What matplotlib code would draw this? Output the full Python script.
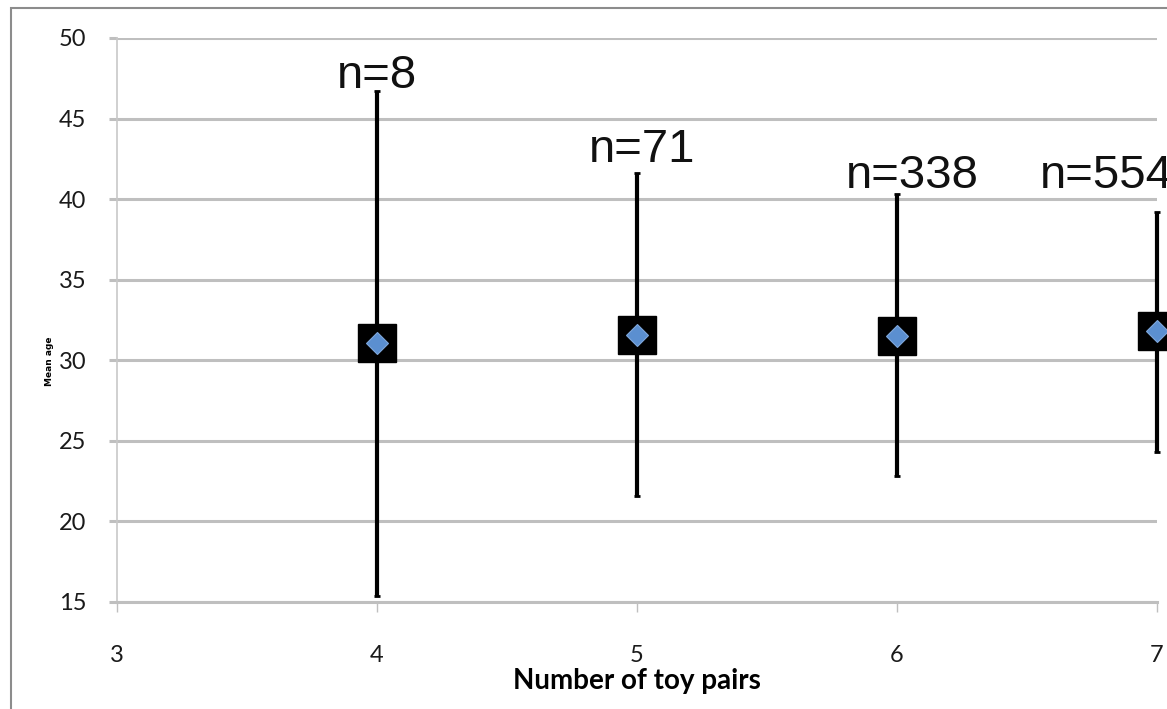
import matplotlib.pyplot as plt
from matplotlib.patches import Rectangle

# data
toy_pairs = [4, 5, 6, 7]
mean_age = [31.1, 31.6, 31.5, 31.8]
err_low = [15.4, 21.6, 22.8, 24.3]
err_high = [46.7, 41.6, 40.3, 39.2]
n_labels = ['n=8', 'n=71', 'n=338', 'n=554']
label_x = [4.0, 5.02, 6.06, 6.55]
label_y = [46.9, 42.3, 40.7, 40.7]
label_ha = ['center', 'center', 'center', 'left']
y_ticks = [15, 20, 25, 30, 35, 40, 45, 50]
x_ticks = [3, 4, 5, 6, 7]

fig = plt.figure(figsize=(11.67, 7.09), dpi=100)
ax = fig.add_axes([117/1167, 107/709, 1040/1167, 564/709])

# outer frame of the chart area (cut off on the right and bottom)
fig.patches.append(Rectangle((11/1167, -0.05), 1.2, (709 - 8)/709 + 0.05,
                             transform=fig.transFigure, fill=False,
                             edgecolor='#8c8c8c', linewidth=1.5))

yerr = [[m - lo for m, lo in zip(mean_age, err_low)],
        [hi - m for m, hi in zip(mean_age, err_high)]]
ax.errorbar(toy_pairs, mean_age, yerr=yerr, fmt='s', color='black',
            markersize=28, elinewidth=3, capsize=2.5, capthick=2, zorder=3,
            clip_on=False)
ax.plot(toy_pairs, mean_age, 'D', color='#5b8fd0', markersize=11,
        markeredgecolor='#7fa8dc', markeredgewidth=0.8, zorder=4, clip_on=False)

# sample size labels (the last one runs off the right edge, as in the original)
for x, y, s, ha in zip(label_x, label_y, n_labels, label_ha):
    ax.text(x, y, s, ha=ha, va='baseline', fontsize=34,
            family='Liberation Sans', color='#111111', clip_on=False)

ax.set_xlim(3, 7)
ax.set_ylim(15, 50)
ax.set_yticks(y_ticks)
ax.set_xticks(x_ticks)
ax.yaxis.grid(True, color='#bfbfbf', linewidth=2.2)
ax.set_axisbelow(True)
for side in ['top', 'right']:
    ax.spines[side].set_visible(False)
ax.spines['left'].set_color('#c8c8c8')
ax.spines['left'].set_linewidth(1.2)
ax.spines['bottom'].set_color('#bfbfbf')
ax.spines['bottom'].set_linewidth(2.2)
ax.tick_params(axis='y', length=6, width=2.2, color='#bfbfbf', pad=16,
               labelsize=17, labelcolor='#1a1a1a')
ax.tick_params(axis='x', length=7, width=1, color='#bfbfbf', pad=24,
               labelsize=17, labelcolor='#1a1a1a')
for lab in ax.get_xticklabels() + ax.get_yticklabels():
    lab.set_family('Lato')

ax.set_xlabel('Number of toy pairs', fontsize=20, fontweight='bold',
              family='Lato', va='center')
ax.xaxis.set_label_coords(0.5, -79/564)
fig.text(50/1167, 1 - 361/709, 'Mean age', rotation=90, fontsize=6.5,
         fontweight='bold', ha='center', va='center')

fig.savefig('out.png', dpi=100)
